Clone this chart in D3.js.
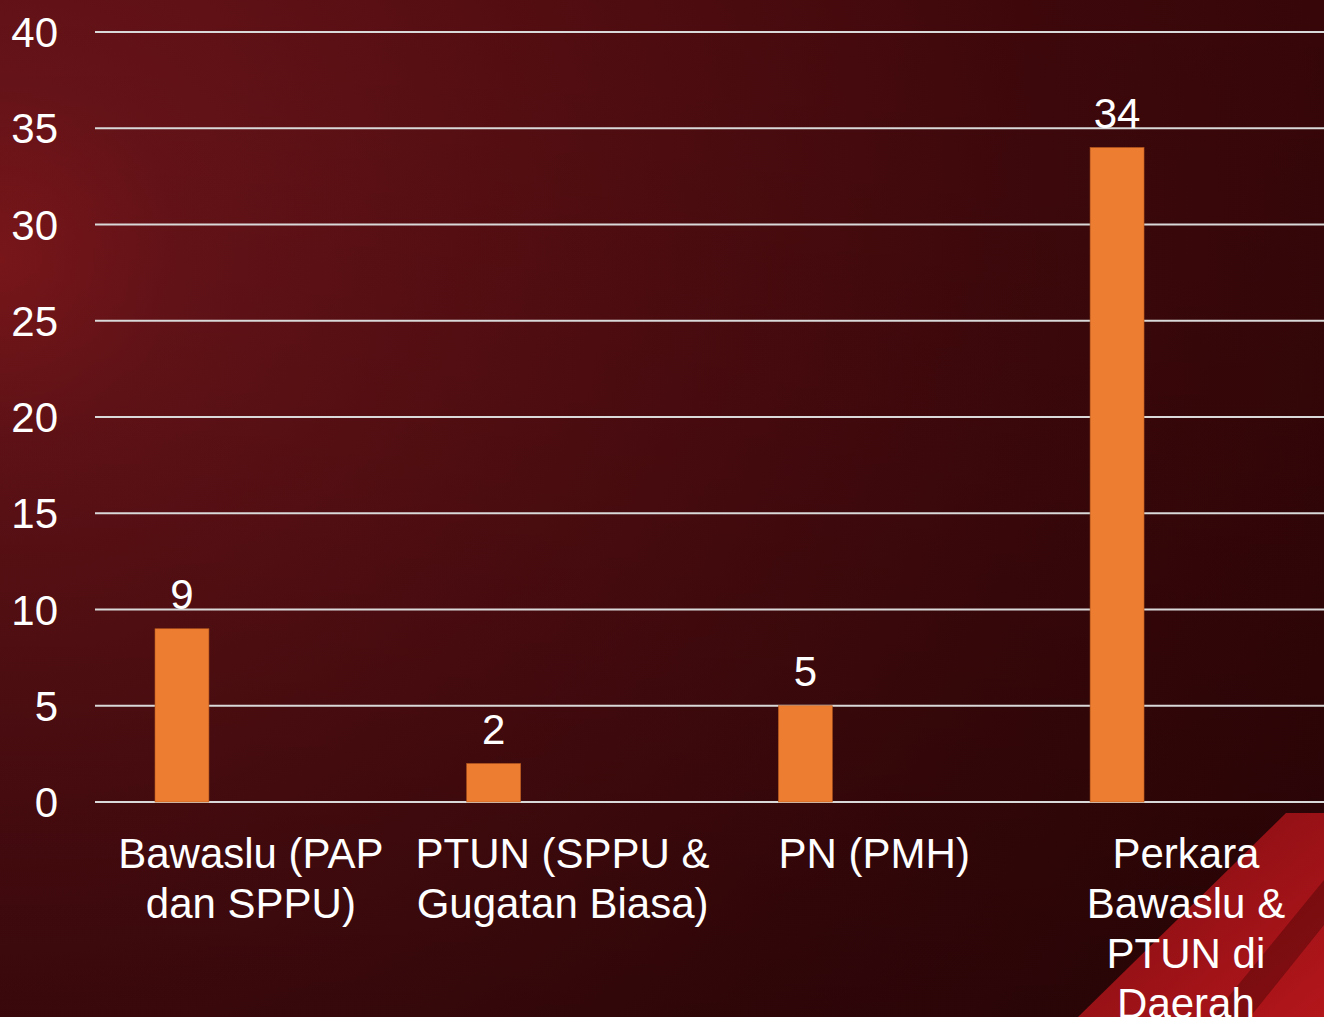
<!DOCTYPE html>
<html>
<head>
<meta charset="utf-8">
<script src="https://cdn.jsdelivr.net/npm/d3@7"></script>
<style>
  html, body { margin: 0; padding: 0; background: #300608; }
  svg { display: block; }
  text { font-family: "Liberation Sans", Arial, sans-serif; fill: #ffffff; }
</style>
</head>
<body>
<svg id="chart"></svg>
<script>
// data
const categories = [
  "Bawaslu (PAP dan SPPU)",
  "PTUN (SPPU & Gugatan Biasa)",
  "PN (PMH)",
  "Perkara Bawaslu & PTUN di Daerah"
]
const categoryLines = [
  ["Bawaslu (PAP", "dan SPPU)"],
  ["PTUN (SPPU &", "Gugatan Biasa)"],
  ["PN (PMH)"],
  ["Perkara", "Bawaslu &", "PTUN di", "Daerah"]
]
const values = [9, 2, 5, 34]
const yTicks = [0, 5, 10, 15, 20, 25, 30, 35, 40]

const W = 1324, H = 1017
const margin = {top: 32, left: 95, bottom: 215}
const bandStep = 311.7

const svg = d3.select("#chart")
    .attr("width", W)
    .attr("height", H)
    .attr("viewBox", "0 0 " + W + " " + H)

// background
const defs = svg.append("defs")
const bg = defs.append("radialGradient")
    .attr("id", "bg")
    .attr("gradientUnits", "userSpaceOnUse")
    .attr("cx", 0).attr("cy", 260).attr("r", 1500)
bg.append("stop").attr("offset", 0).attr("stop-color", "#7e171b")
bg.append("stop").attr("offset", 0.12).attr("stop-color", "#661318")
bg.append("stop").attr("offset", 0.4).attr("stop-color", "#520d11")
bg.append("stop").attr("offset", 0.7).attr("stop-color", "#3e080b")
bg.append("stop").attr("offset", 1).attr("stop-color", "#320507")

const shade = defs.append("linearGradient")
    .attr("id", "shade")
    .attr("x1", 0).attr("y1", 0).attr("x2", 0).attr("y2", 1)
shade.append("stop").attr("offset", 0).attr("stop-color", "#000").attr("stop-opacity", 0)
shade.append("stop").attr("offset", 0.4).attr("stop-color", "#000").attr("stop-opacity", 0.08)
shade.append("stop").attr("offset", 1).attr("stop-color", "#000").attr("stop-opacity", 0.25)

const stripe = defs.append("linearGradient")
    .attr("id", "stripe")
    .attr("x1", 0).attr("y1", 0).attr("x2", 1).attr("y2", 1)
stripe.append("stop").attr("offset", 0).attr("stop-color", "#7e0d11")
stripe.append("stop").attr("offset", 1).attr("stop-color", "#b3161b")

svg.append("rect").attr("width", W).attr("height", H).attr("fill", "url(#bg)")
svg.append("rect").attr("width", W).attr("height", H).attr("fill", "url(#shade)")

// red diagonal stripe, bottom right
svg.append("path")
    .attr("d", "M1286,813 L1324,813 L1324,1017 L1078,1017 Z")
    .attr("fill", "url(#stripe)")
svg.append("path")
    .attr("d", "M1324,880 L1324,925 L1250,1017 L1212,1017 Z")
    .attr("fill", "#5a070a")
    .attr("opacity", 0.55)

// scales
const x = d3.scaleBand()
    .domain(categories)
    .range([margin.left, margin.left + bandStep * categories.length])
    .padding(0)
const y = d3.scaleLinear()
    .domain([0, 40])
    .range([H - margin.bottom, margin.top])

const barOffset = 0.1925, barFrac = 0.173

// gridlines
svg.append("g")
    .selectAll("line")
    .data(yTicks)
    .join("line")
    .attr("x1", margin.left)
    .attr("x2", W)
    .attr("y1", d => y(d))
    .attr("y2", d => y(d))
    .attr("stroke", "#d9d9d9")
    .attr("stroke-width", 2)

// y labels
svg.append("g")
    .selectAll("text")
    .data(yTicks)
    .join("text")
    .attr("x", 58)
    .attr("y", d => y(d))
    .attr("dy", "0.36em")
    .attr("text-anchor", "end")
    .style("font-size", "42px")
    .text(d => d)

// bars
svg.append("g")
    .selectAll("rect")
    .data(values)
    .join("rect")
    .attr("x", (d, i) => x(categories[i]) + x.bandwidth() * barOffset)
    .attr("width", x.bandwidth() * barFrac)
    .attr("y", d => y(d))
    .attr("height", d => y(0) - y(d))
    .attr("fill", "#ed7d31")
    .attr("stroke", "#b85a1e")
    .attr("stroke-width", 0.6)

// value labels
svg.append("g")
    .selectAll("text")
    .data(values)
    .join("text")
    .attr("x", (d, i) => x(categories[i]) + x.bandwidth() * (barOffset + barFrac / 2))
    .attr("y", d => y(d) - 20)
    .attr("text-anchor", "middle")
    .style("font-size", "42px")
    .text(d => d)

// category labels
const cat = svg.append("g")
    .selectAll("text")
    .data(categories)
    .join("text")
    .attr("text-anchor", "middle")
    .style("font-size", "42px")
    .attr("transform", d => "translate(" + (x(d) + x.bandwidth() / 2) + "," + (y(0) + 66) + ")")
cat.selectAll("tspan")
    .data((d, i) => categoryLines[i])
    .join("tspan")
    .attr("x", 0)
    .attr("y", (d, i) => i * 50)
    .text(d => d)
</script>
</body>
</html>
